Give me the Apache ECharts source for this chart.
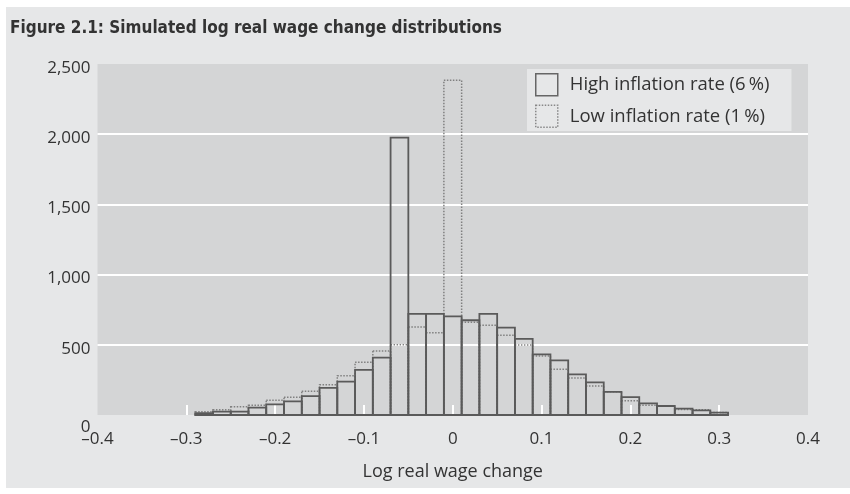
<!DOCTYPE html>
<html>
<head>
<meta charset="utf-8">
<script src="https://cdn.jsdelivr.net/npm/echarts@6/dist/echarts.min.js"></script>
<style>
	body{ margin:0; background:#ffffff; }
	#chart{ position:absolute; left:6px; top:7px; width:844px; height:481px; background:#e6e7e8; }
</style>
</head>
<body>
<div id="chart"></div>
<script>
// bin centres (bin width 0.02)
var binCenters = [-0.28, -0.26, -0.24, -0.22, -0.20, -0.18, -0.16, -0.14, -0.12, -0.10,
	-0.08, -0.06, -0.04, -0.02, 0.00, 0.02, 0.04, 0.06, 0.08, 0.10,
	0.12, 0.14, 0.16, 0.18, 0.20, 0.22, 0.24, 0.26, 0.28, 0.30];
var binWidth = 0.02;
// high inflation rate (6 %)
var highCounts = [14, 24, 24, 52, 76, 97, 135, 193, 238, 321,
	408, 1975, 720, 720, 703, 675, 720, 622, 542, 432,
	389, 290, 233, 165, 127, 83, 64, 45, 33, 17];
// low inflation rate (1 %)
var lowCounts = [24, 38, 59, 69, 105, 127, 169, 216, 280, 375,
	456, 500, 627, 585, 2384, 660, 639, 568, 499, 420,
	325, 264, 207, 166, 101, 69, 62, 40, 38, 17];
var xTicks = [-0.3, -0.2, -0.1, 0, 0.1, 0.2, 0.3];

var highName = 'High inflation rate (6\u2009%)';
var lowName = 'Low inflation rate (1\u2009%)';
var fontFam = '"Open Sans", "Noto Sans", sans-serif';

function pairs(vals){
	return binCenters.map(function(c, i){ return [c, vals[i]]; });
}

function makeRender(stroke, width, dash){
	return function(params, api){
		var c = api.value(0), v = api.value(1);
		var p0 = api.coord([c - binWidth / 2, v]);
		var p1 = api.coord([c + binWidth / 2, 0]);
		return {
			type: 'rect',
			shape: {x: p0[0], y: p0[1], width: p1[0] - p0[0], height: p1[1] - p0[1]},
			style: {fill: 'none', stroke: stroke, lineWidth: width, lineDash: dash}
		};
	};
}

var myChart = echarts.init(document.getElementById('chart'));
myChart.setOption({
	animation: false,
	title: {
		text: 'Figure 2.1: Simulated log real wage change distributions',
		left: 4,
		top: 13,
		padding: 0,
		textStyle: {
			fontFamily: '"Liberation Sans Narrow", "DejaVu Sans Condensed", sans-serif',
			fontSize: 17,
			fontWeight: 'bold',
			color: '#333333'
		}
	},
	legend: {
		orient: 'vertical',
		left: 521,
		top: 62,
		padding: [4, 22, 3, 8],
		itemGap: 8,
		itemWidth: 22,
		itemHeight: 22,
		backgroundColor: '#e6e7e8',
		textStyle: {fontFamily: fontFam, fontSize: 18.5, color: '#333333', padding: [0, 0, 0, 7]},
		data: [
			{name: highName, icon: 'rect', itemStyle: {color: 'rgba(0,0,0,0)', borderColor: '#666666', borderWidth: 1.5, borderType: 'solid'}},
			{name: lowName, icon: 'rect', itemStyle: {color: 'rgba(0,0,0,0)', borderColor: '#888888', borderWidth: 1.5, borderType: [1.5, 1.5]}}
		]
	},
	grid: {
		left: 91.5,
		right: 42,
		top: 57,
		bottom: 73,
		show: true,
		backgroundColor: '#d4d5d6',
		borderWidth: 0
	},
	xAxis: {
		type: 'value',
		min: -0.4,
		max: 0.4,
		interval: 0.1,
		name: 'Log real wage change',
		nameLocation: 'middle',
		nameGap: 48,
		nameTextStyle: {fontFamily: fontFam, fontSize: 18, color: '#333333'},
		axisLine: {show: false},
		axisTick: {show: true, inside: true, length: 10, customValues: xTicks, lineStyle: {color: '#ffffff', width: 2}},
		splitLine: {show: false},
		axisLabel: {
			margin: 16,
			fontFamily: fontFam,
			fontSize: 17,
			color: '#333333',
			formatter: function(v){
				var r = Math.round(v * 10) / 10;
				return r < 0 ? '\u2013' + Math.abs(r) : String(r);
			}
		}
	},
	yAxis: {
		type: 'value',
		min: 0,
		max: 2500,
		interval: 500,
		axisLine: {show: false},
		axisTick: {show: false},
		splitLine: {show: true, showMinLine: false, showMaxLine: false, lineStyle: {color: '#ffffff', width: 2}},
		axisLabel: {
			margin: 7,
			formatter: function(v){
				if (v === 0) return '{z|0}';
				return '{a|' + v.toLocaleString('en-US') + '}';
			},
			rich: {
				a: {fontFamily: fontFam, fontSize: 17, color: '#333333', padding: [8, 0, 0, 0]},
				z: {fontFamily: fontFam, fontSize: 17, color: '#333333', padding: [24, 0, 0, 0]}
			}
		}
	},
	series: [
		{
			name: lowName,
			type: 'custom',
			renderItem: makeRender('#808080', 1.5, [1.5, 1.5]),
			itemStyle: {color: 'rgba(0,0,0,0)', borderColor: '#888888'},
			encode: {x: 0, y: 1},
			data: pairs(lowCounts),
			z: 2
		},
		{
			name: highName,
			type: 'custom',
			renderItem: makeRender('#5a5a5a', 1.8, null),
			itemStyle: {color: 'rgba(0,0,0,0)', borderColor: '#666666'},
			encode: {x: 0, y: 1},
			data: pairs(highCounts),
			z: 3
		}
	]
});
</script>
</body>
</html>
